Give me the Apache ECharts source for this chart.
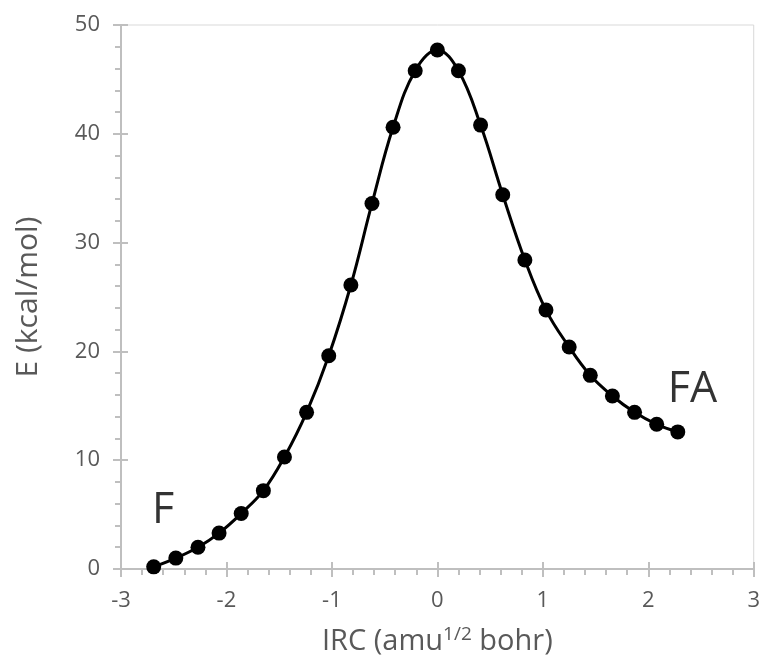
<!DOCTYPE html>
<html>
<head>
<meta charset="utf-8">
<script src="https://cdn.jsdelivr.net/npm/echarts@6/dist/echarts.min.js"></script>
<style>
html,body{margin:0;padding:0;background:#fff;}
#chart{width:763px;height:662px;}
</style>
</head>
<body>
<div id="chart"></div>
<script>
// IRC coordinate (amu^1/2 bohr)
const ircX = [-2.69, -2.48, -2.27, -2.07, -1.86, -1.65, -1.45, -1.24, -1.03, -0.82, -0.62, -0.42, -0.21,
              0.00, 0.20, 0.41, 0.62, 0.83, 1.03, 1.25, 1.45, 1.66, 1.87, 2.08, 2.28];
// Energy (kcal/mol)
const energyY = [0.2, 1.0, 2.0, 3.3, 5.1, 7.2, 10.3, 14.4, 19.6, 26.1, 33.6, 40.6, 45.8,
                 47.7, 45.8, 40.8, 34.4, 28.4, 23.8, 20.4, 17.8, 15.9, 14.4, 13.3, 12.6];
// Annotations
const annotNames = ['F', 'FA'];
const annotX = [-2.60, 2.42];
const annotY = [5.35, 16.5];
// Axis ticks
const xTicks = { min: -3, max: 3, interval: 1 };
const yTicks = { min: 0, max: 50, interval: 10 };

const FONT = '"Open Sans", sans-serif';
const GRAY = '#bfbfbf';
const LABEL = '#595959';

const chart = echarts.init(document.getElementById('chart'));
const option = {
  animation: false,
  backgroundColor: '#fff',
  grid: {
    left: 121, right: 5, top: 25, bottom: 93,
    show: true, borderColor: '#d9d9d9', borderWidth: 1
  },
  xAxis: [{
    type: 'value', min: xTicks.min, max: xTicks.max, interval: xTicks.interval,
    position: 'bottom',
    name: 'IRC (amu{sup|1/2} bohr)',
    nameLocation: 'middle', nameGap: 56,
    nameTextStyle: {
      fontFamily: FONT, fontSize: 29, color: LABEL,
      rich: { sup: { fontFamily: FONT, fontSize: 19, color: LABEL, padding: [0, 0, 14, 0] } }
    },
    axisLine: { show: true, onZero: false, lineStyle: { color: GRAY, width: 2 } },
    axisTick: { show: true, inside: false, length: 8, lineStyle: { color: GRAY, width: 2 } },
    minorTick: { show: true, splitNumber: 5, length: 6, lineStyle: { color: GRAY, width: 2 } },
    axisLabel: { fontFamily: FONT, fontSize: 22, color: LABEL, margin: 21 },
    splitLine: { show: false }
  }, {
    type: 'value', min: xTicks.min, max: xTicks.max, interval: xTicks.interval,
    position: 'bottom',
    axisLine: { show: false, onZero: false },
    axisTick: { show: true, inside: true, length: 7, lineStyle: { color: GRAY, width: 2 } },
    axisLabel: { show: false },
    splitLine: { show: false }
  }],
  yAxis: [{
    type: 'value', min: yTicks.min, max: yTicks.max, interval: yTicks.interval,
    position: 'left',
    name: 'E (kcal/mol)',
    nameLocation: 'middle', nameGap: 78,
    nameTextStyle: { fontFamily: FONT, fontSize: 30, color: LABEL },
    axisLine: { show: true, onZero: false, lineStyle: { color: GRAY, width: 2 } },
    axisTick: { show: true, inside: false, length: 8, lineStyle: { color: GRAY, width: 2 } },
    minorTick: { show: true, splitNumber: 5, length: 6, lineStyle: { color: GRAY, width: 2 } },
    axisLabel: { fontFamily: FONT, fontSize: 22, color: LABEL, margin: 21 },
    splitLine: { show: false }
  }, {
    type: 'value', min: yTicks.min, max: yTicks.max, interval: yTicks.interval,
    position: 'left',
    axisLine: { show: false, onZero: false },
    axisTick: { show: true, inside: true, length: 7, lineStyle: { color: GRAY, width: 2 } },
    axisLabel: { show: false },
    splitLine: { show: false }
  }],
  series: [{
    type: 'line',
    data: ircX.map((x, i) => [x, energyY[i]]),
    smooth: 0.4,
    symbol: 'circle', symbolSize: 15,
    lineStyle: { color: '#000', width: 3 },
    itemStyle: { color: '#000' },
    z: 5
  }, {
    type: 'scatter',
    data: annotNames.map((n, i) => ({ name: n, value: [annotX[i], annotY[i]] })),
    symbolSize: 1,
    itemStyle: { color: 'rgba(0,0,0,0)' },
    label: {
      show: true, position: 'inside', formatter: p => p.name,
      fontFamily: FONT, fontSize: 43, color: '#000'
    },
    silent: true
  }]
};
chart.setOption(option);
</script>
</body>
</html>
